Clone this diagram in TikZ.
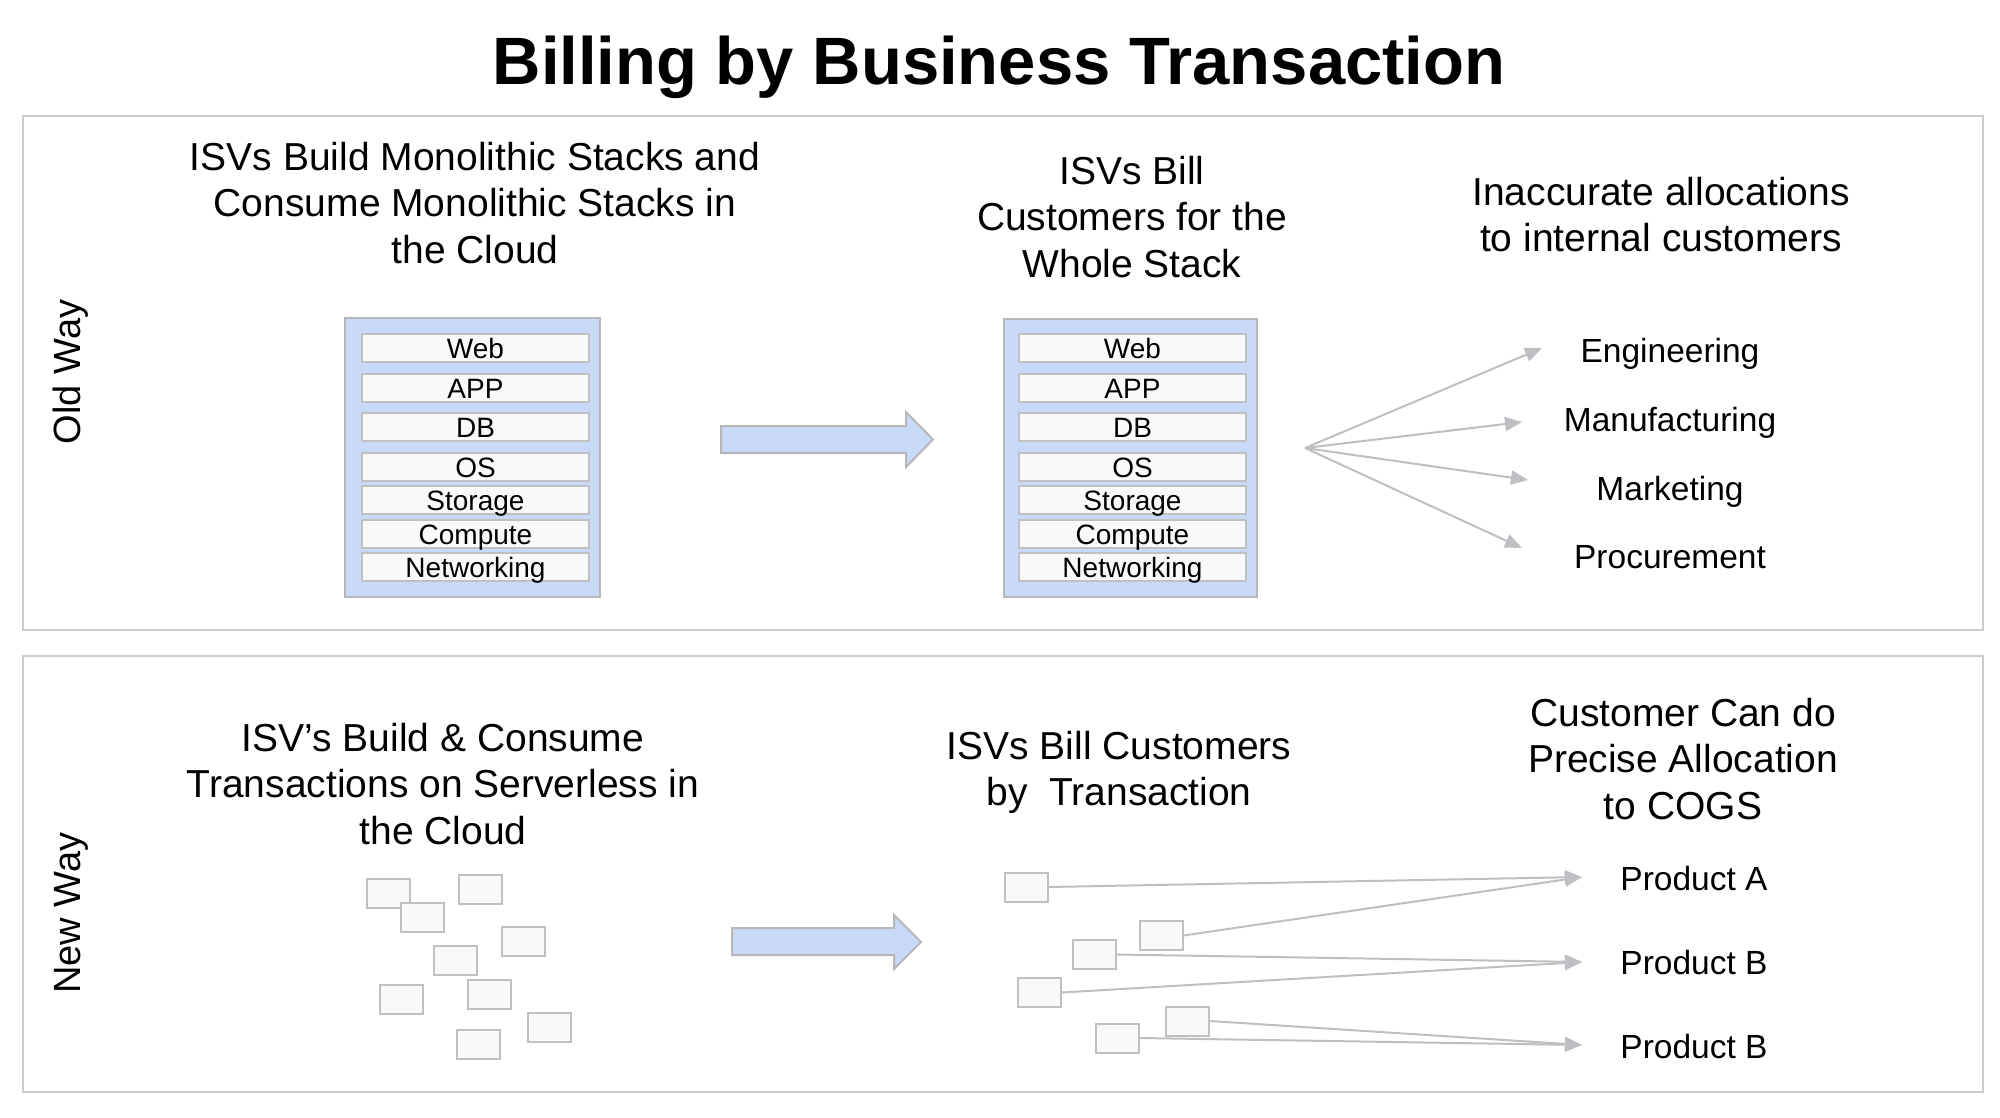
\documentclass[tikz,border=0pt]{standalone}
\usepackage{fontspec}
\setmainfont{Liberation Sans}
\usetikzlibrary{arrows.meta}
\definecolor{panelline}{HTML}{CCCCCC}
\definecolor{stackblue}{HTML}{C9DAF8}
\definecolor{stackline}{HTML}{B7B7B7}
\definecolor{barfill}{HTML}{F8F9FA}
\definecolor{barline}{HTML}{C0C0C0}
\definecolor{conncol}{HTML}{BDBFC3}
\begin{document}
\begin{tikzpicture}[x=1pt,y=-1pt,
  panel/.style={draw=panelline, line width=2.5pt},
  stackbox/.style={draw=stackline, fill=stackblue, line width=2pt, inner sep=0pt},
  bar/.style={draw=barline, fill=barfill, line width=2pt, minimum width=227pt, minimum height=28pt,
    inner sep=0pt, font=\fontsize{28}{30}\selectfont, text height=20pt, text depth=0pt},
  head/.style={align=center, anchor=north, inner sep=0pt, font=\fontsize{39}{46.5}\selectfont},
  lab/.style={inner sep=0pt, font=\fontsize{33.5}{40}\selectfont, text height=24pt, text depth=0pt},
  side/.style={inner sep=0pt, font=\fontsize{38}{45}\selectfont, text height=27pt, text depth=0pt, rotate=90},
  blockarrow/.style={draw=stackline, fill=stackblue, line width=2pt, line join=miter},
  conn/.style={draw=conncol, line width=2pt, -{Triangle[length=17pt,width=14pt]}},
  chip/.style={draw=barline, fill=barfill, line width=2pt, minimum width=43pt, minimum height=29pt, inner sep=0pt}
]
\useasboundingbox (0,0) rectangle (2000,1118);
\fill[white] (0,0) rectangle (2000,1118);

% title
\node[inner sep=0pt, font=\fontsize{67}{80}\selectfont\bfseries, text height=48pt, text depth=0pt] (title) at (999,61) {Billing by Business Transaction};

% panels
\node[panel, minimum width=1960pt, minimum height=514pt, inner sep=0pt] (oldpanel) at (1003,373) {};
\node[panel, minimum width=1960pt, minimum height=436pt, inner sep=0pt] (newpanel) at (1003,874) {};

\node[side] (oldway) at (67,372) {Old Way};
\node[side] (newway) at (67,913) {New Way};

% old way headings
\node[head] (h1) at (475,142) {ISVs Build Monolithic Stacks and\\Consume Monolithic Stacks in\\the Cloud};
\node[head] (h2) at (1132,156) {ISVs Bill\\Customers for the\\Whole Stack};
\node[head] (h3) at (1661,177) {Inaccurate allocations\\to internal customers};

% stacks
\node[stackbox, minimum width=255pt, minimum height=279pt] (stackA) at (472.5,457.5) {};
\node[stackbox, minimum width=253pt, minimum height=278pt] (stackB) at (1130,458) {};
\foreach \t/\y [count=\i] in {Web/348,APP/388,DB/427,OS/467,Storage/500,Compute/534,Networking/567}{
  \node[bar] (a\i) at (475.5,\y) {\t};
  \node[bar] (b\i) at (1132.5,\y) {\t};
}

% block arrows
\draw[blockarrow] (721,426) -- (906,426) -- (906,412) -- (933,439.5) -- (906,467) -- (906,453) -- (721,453) -- cycle;
\draw[blockarrow] (732,928) -- (894,928) -- (894,915) -- (921,942) -- (894,969) -- (894,955) -- (732,955) -- cycle;

% fan
\coordinate (fan) at (1305,448);
\coordinate (e1) at (1542,348);
\coordinate (e2) at (1522,422);
\coordinate (e3) at (1528,480);
\coordinate (e4) at (1522,548);
\draw[conn] (fan) -- (e1);
\draw[conn] (fan) -- (e2);
\draw[conn] (fan) -- (e3);
\draw[conn] (fan) -- (e4);
\node[lab] (eng) at (1670,350) {Engineering};
\node[lab] (man) at (1670,419.5) {Manufacturing};
\node[lab] (mkt) at (1670,488) {Marketing};
\node[lab] (pro) at (1670,556) {Procurement};

% new way headings
\node[head] (n1) at (443,723) {ISV’s Build \& Consume\\Transactions on Serverless in\\the Cloud};
\node[head] (n2) at (1119,731) {ISVs Bill Customers\\by\ \ Transaction};
\node[head] (n3) at (1683,698) {Customer Can do\\Precise Allocation\\to COGS};

% scattered transactions
\node[chip] (l1) at (388.5,893.5) {};
\node[chip] (l2) at (480,889.5) {};
\node[chip] (l3) at (422,917.5) {};
\node[chip] (l4) at (523,941.5) {};
\node[chip] (l5) at (455.5,960.5) {};
\node[chip] (l6) at (401.5,999) {};
\node[chip] (l7) at (489,994.5) {};
\node[chip] (l8) at (549.5,1027.5) {};
\node[chip] (l9) at (478.5,1044.5) {};

% billed transactions
\node[chip] (c1) at (1026.5,887) {};
\node[chip] (c2) at (1161,935.5) {};
\node[chip] (c3) at (1094,954.5) {};
\node[chip] (c4) at (1039.5,992.5) {};
\node[chip] (c5) at (1187.5,1021) {};
\node[chip] (c6) at (1117,1038) {};

\coordinate (tA) at (1582,877);
\coordinate (tB) at (1582,962);
\coordinate (tC) at (1582,1045);
\draw[conn] (c1.east) -- (tA);
\draw[conn] (c2.east) -- (tA);
\draw[conn] (c3.east) -- (tB);
\draw[conn] (c4.east) -- (tB);
\draw[conn] (c5.east) -- (tC);
\draw[conn] (c6.east) -- (tC);

\node[lab] (pa) at (1694,878) {Product A};
\node[lab] (pb) at (1694,962) {Product B};
\node[lab] (pc) at (1694,1046) {Product B};
\end{tikzpicture}
\end{document}
